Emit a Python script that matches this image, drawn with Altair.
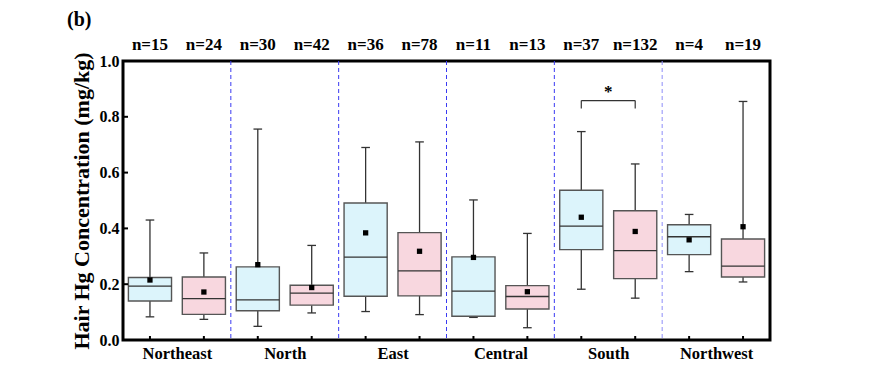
import json
import altair as alt
import pandas as pd

regions = ["Northeast", "North", "East", "Central", "South", "Northwest"]
series = ["Group A", "Group B"]
n_values = [15, 24, 30, 42, 36, 78, 11, 13, 37, 132, 4, 19]
whisker_low = [0.083, 0.074, 0.049, 0.097, 0.102, 0.091, 0.081, 0.044, 0.182, 0.150, 0.245, 0.208]
q1 = [0.140, 0.092, 0.105, 0.125, 0.157, 0.158, 0.085, 0.111, 0.324, 0.220, 0.306, 0.226]
median = [0.193, 0.148, 0.144, 0.168, 0.297, 0.248, 0.175, 0.156, 0.408, 0.320, 0.370, 0.265]
q3 = [0.224, 0.226, 0.262, 0.196, 0.491, 0.385, 0.298, 0.195, 0.537, 0.463, 0.413, 0.362]
whisker_high = [0.430, 0.312, 0.756, 0.339, 0.690, 0.710, 0.502, 0.382, 0.747, 0.631, 0.450, 0.855]
mean = [0.215, 0.172, 0.270, 0.188, 0.384, 0.318, 0.296, 0.173, 0.440, 0.389, 0.359, 0.406]
y_ticks = [0.0, 0.2, 0.4, 0.6, 0.8, 1.0]
divider_colors = ["#3a3af2", "#3a3af2", "#3a3af2", "#3a3af2", "#8e8ef8"]
# significance bracket (South): y of bracket, y of tick ends
sig_y = 0.858
sig_tick = 0.830
sig_label = "*"

FONT = "Liberation Serif"
W, H = 647, 279

rows = []
for i in range(len(n_values)):
    rows.append(dict(
        idx=i, center=i + 0.5, left=i + 0.1, right=i + 0.9,
        cap_l=i + 0.42, cap_r=i + 0.58,
        series=series[i % 2], region=regions[i // 2], n=f"n={n_values[i]}",
        lo=whisker_low[i], q1=q1[i], med=median[i], q3=q3[i], hi=whisker_high[i], mean=mean[i],
    ))
df = pd.DataFrame(rows)

xscale = alt.Scale(domain=[0, len(n_values)], nice=False, zero=False)
yscale = alt.Scale(domain=[0, 1], nice=False)
label_expr = json.dumps(regions) + "[round((datum.value-1)/2)]"

base = alt.Chart(df)

x_axis = alt.Axis(values=[2 * k + 1 for k in range(len(regions))], labelExpr=label_expr,
                  ticks=False, domain=False, grid=False, title=None,
                  labelFont=FONT, labelFontSize=16.5, labelFontWeight="bold", labelColor="black",
                  labelPadding=5)
y_axis = alt.Axis(values=y_ticks, format=".1f", ticks=False, domain=False, grid=False,
                  title="Hair Hg Concentration (mg/kg)", titleFont=FONT, titleFontSize=22,
                  titleFontWeight="bold", titleColor="black", titlePadding=6,
                  labelFont=FONT, labelFontSize=16, labelFontWeight="bold", labelColor="black",
                  labelPadding=4)

# dividers
div_df = pd.DataFrame({"xpos": [2 * (k + 1) for k in range(len(regions) - 1)], "col": divider_colors})
dividers = alt.Chart(div_df).mark_rule(strokeDash=[4, 3], strokeWidth=1).encode(
    x=alt.X("xpos:Q", scale=xscale, axis=x_axis),
    y=alt.value(0), y2=alt.value(H),
    color=alt.Color("col:N", scale=None),
)

whisk_low = base.mark_rule(color="#333333", strokeWidth=1.3).encode(
    x=alt.X("center:Q", scale=xscale), y=alt.Y("lo:Q", scale=yscale, axis=y_axis), y2="q1:Q")
whisk_high = base.mark_rule(color="#333333", strokeWidth=1.3).encode(
    x=alt.X("center:Q", scale=xscale), y=alt.Y("q3:Q", scale=yscale), y2="hi:Q")
cap_low = base.mark_rule(color="#333333", strokeWidth=1.3).encode(
    x=alt.X("cap_l:Q", scale=xscale), x2="cap_r:Q", y=alt.Y("lo:Q", scale=yscale))
cap_high = base.mark_rule(color="#333333", strokeWidth=1.3).encode(
    x=alt.X("cap_l:Q", scale=xscale), x2="cap_r:Q", y=alt.Y("hi:Q", scale=yscale))

boxes = base.mark_rect(stroke="#555555", strokeWidth=1.4).encode(
    x=alt.X("left:Q", scale=xscale), x2="right:Q",
    y=alt.Y("q1:Q", scale=yscale), y2="q3:Q",
    fill=alt.Fill("series:N", scale=alt.Scale(domain=series, range=["#dcf4fb", "#f8d7df"]), legend=None),
)
medians = base.mark_rule(color="#333333", strokeWidth=1.3).encode(
    x=alt.X("left:Q", scale=xscale), x2="right:Q", y=alt.Y("med:Q", scale=yscale))
means = base.mark_square(size=28, color="black", opacity=1).encode(
    x=alt.X("center:Q", scale=xscale), y=alt.Y("mean:Q", scale=yscale))

n_text = base.mark_text(font=FONT, fontSize=17, fontWeight="bold", color="black", baseline="middle").encode(
    x=alt.X("center:Q", scale=xscale), y=alt.value(-16), text="n:N")

x_tickmarks = base.mark_rule(color="black", strokeWidth=2).encode(
    x=alt.X("center:Q", scale=xscale), y=alt.value(H), y2=alt.value(H - 4))

yt_df = pd.DataFrame({"v": y_ticks})
y_tickmarks = alt.Chart(yt_df).mark_rule(color="black", strokeWidth=2).encode(
    y=alt.Y("v:Q", scale=yscale), x=alt.value(0), x2=alt.value(5))

# significance bracket
south_a = regions.index("South") * 2
br_df = pd.DataFrame({"x1": [south_a + 0.5], "x2": [south_a + 1.5], "y": [sig_y], "yt": [sig_tick],
                      "xm": [south_a + 1.0], "lab": [sig_label]})
br = alt.Chart(br_df)
br_h = br.mark_rule(color="#333333", strokeWidth=1.2).encode(
    x=alt.X("x1:Q", scale=xscale), x2="x2:Q", y=alt.Y("y:Q", scale=yscale))
br_l = br.mark_rule(color="#333333", strokeWidth=1.2).encode(
    x=alt.X("x1:Q", scale=xscale), y=alt.Y("y:Q", scale=yscale), y2="yt:Q")
br_r = br.mark_rule(color="#333333", strokeWidth=1.2).encode(
    x=alt.X("x2:Q", scale=xscale), y=alt.Y("y:Q", scale=yscale), y2="yt:Q")
br_t = br.mark_text(font=FONT, fontSize=17, fontWeight="bold", color="black", baseline="bottom", dy=0).encode(
    x=alt.X("xm:Q", scale=xscale), y=alt.Y("y:Q", scale=yscale), text="lab:N")

panel_label = alt.Chart(pd.DataFrame({"t": ["(b)"]})).mark_text(
    font=FONT, fontSize=20, fontWeight="bold", color="black", align="left", baseline="middle"
).encode(x=alt.value(-56), y=alt.value(-41), text="t:N")

chart = alt.layer(
    dividers, whisk_low, whisk_high, cap_low, cap_high, boxes, medians, means,
    n_text, x_tickmarks, y_tickmarks, br_h, br_l, br_r, br_t, panel_label
).properties(
    width=W, height=H,
    background="white",
    autosize=alt.AutoSizeParams(type="none"),
    padding={"left": 115, "top": 53, "right": 100, "bottom": 33},
).configure_view(stroke="black", strokeWidth=3)

chart.save("out.html", embed_options={"renderer": "svg", "actions": False})
